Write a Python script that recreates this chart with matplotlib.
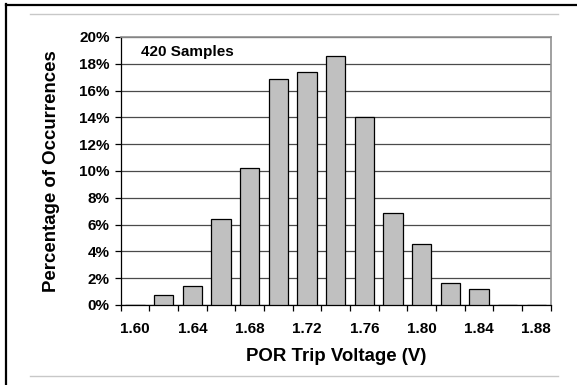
import matplotlib
matplotlib.use("Agg")
import matplotlib.pyplot as plt
from matplotlib.lines import Line2D
from matplotlib.ticker import FuncFormatter

# POR trip voltage histogram, 420 samples
voltages = ["1.60", "1.62", "1.64", "1.66", "1.68", "1.70", "1.72", "1.74",
            "1.76", "1.78", "1.80", "1.82", "1.84", "1.86", "1.88"]
percent = [0.0, 0.71, 1.43, 6.43, 10.24, 16.90, 17.38, 18.57,
           14.05, 6.90, 4.52, 1.67, 1.19, 0.0, 0.0]
yticks = [0, 2, 4, 6, 8, 10, 12, 14, 16, 18, 20]

plt.rcParams['font.family'] = ['Liberation Sans', 'DejaVu Sans']
plt.rcParams['font.weight'] = 'bold'

W, H = 577, 385
fig = plt.figure(figsize=(W / 100, H / 100), dpi=100)
ax = fig.add_axes([120.7 / W, 1 - 305 / H, 430 / W, 268 / H])

x = list(range(len(voltages)))
ax.bar(x, percent, width=0.67, color="#c0c0c0", edgecolor="black",
       linewidth=0.9, zorder=3)

ax.set_xlim(-0.5, len(voltages) - 0.5)
ax.set_ylim(0, 20)
ax.set_yticks(yticks)
ax.yaxis.set_major_formatter(FuncFormatter(lambda v, p: "%d%%" % v))
ax.grid(axis="y", color="#4a4a4a", linewidth=0.9, zorder=0)

# ticks on category boundaries, labels on every other category
ax.set_xticks([i - 0.5 for i in range(len(voltages) + 1)])
ax.set_xticklabels([])
ax.set_xticks(x[::2], minor=True)
ax.set_xticklabels(voltages[::2], minor=True)
ax.tick_params(axis="x", which="major", length=4, width=0.9, direction="out")
ax.tick_params(axis="x", which="minor", length=0, pad=12, labelsize=11)
ax.tick_params(axis="y", length=4, width=0.9, pad=4, labelsize=11)

for s in ["left", "bottom"]:
    ax.spines[s].set_color("black")
    ax.spines[s].set_linewidth(0.9)
for s in ["top", "right"]:
    ax.spines[s].set_color("#909090")
    ax.spines[s].set_linewidth(1.2)

ax.set_xlabel("POR Trip Voltage (V)", fontsize=13.4, fontweight="bold", labelpad=9)
ax.set_ylabel("Percentage of Occurrences", fontsize=13.4, fontweight="bold", labelpad=14)
ax.text(0.21, 18.9, "420 Samples", fontsize=11, fontweight="bold",
        ha="left", va="center", zorder=4)

# page frame lines
fig.add_artist(Line2D([5.5 / W, 5.5 / W], [0, 1 - 4 / H], color="black", linewidth=1.6))
fig.add_artist(Line2D([5.5 / W, 1], [1 - 4.5 / H, 1 - 4.5 / H], color="black", linewidth=1.6))
fig.add_artist(Line2D([30 / W, 558 / W], [1 - 14.3 / H, 1 - 14.3 / H], color="#c8c8c8", linewidth=1))
fig.add_artist(Line2D([30 / W, 558 / W], [1 - 376 / H, 1 - 376 / H], color="#c8c8c8", linewidth=1))

fig.savefig("out.png", dpi=100)
